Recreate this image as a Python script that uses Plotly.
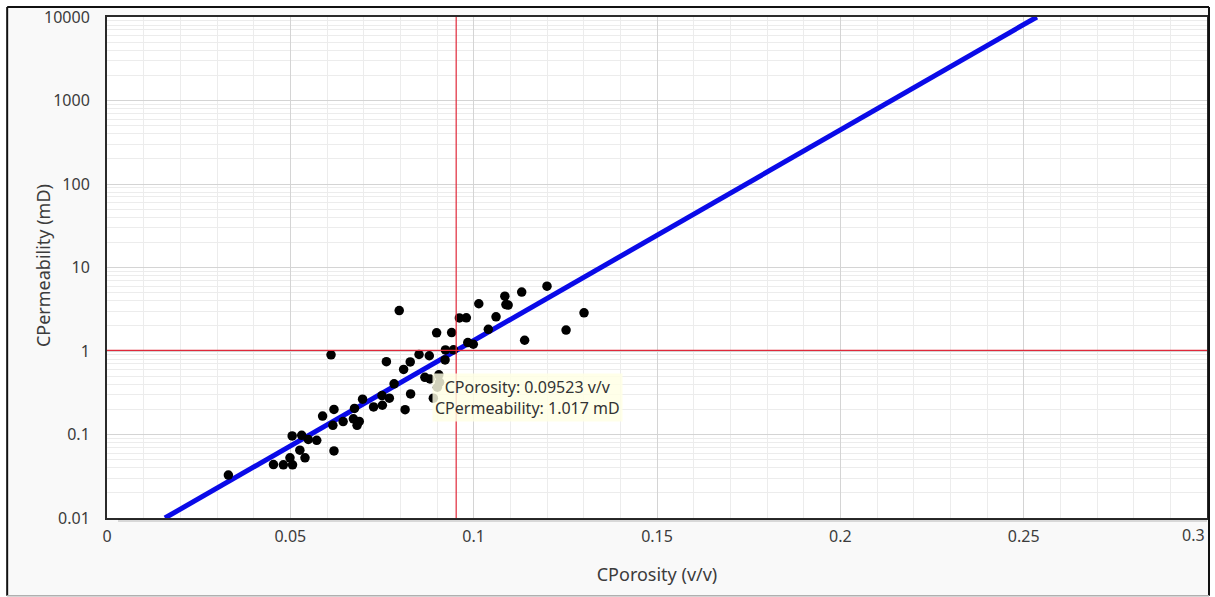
import plotly.graph_objects as go

# Core samples: porosity (v/v) and permeability (mD)
core_porosity = [
    0.0331, 0.0454, 0.0481, 0.0499, 0.0506, 0.0505, 0.0526, 0.0531, 0.0540, 0.0549,
    0.0572, 0.0588, 0.0619, 0.0619, 0.0616, 0.0644, 0.0611, 0.0672, 0.0688, 0.0682,
    0.0675, 0.0697, 0.0727, 0.0751, 0.0750, 0.0770, 0.0762, 0.0783, 0.0797, 0.0809,
    0.0813, 0.0828, 0.0827, 0.0851, 0.0867, 0.0879, 0.0881, 0.0890, 0.0899, 0.0901,
    0.0905, 0.0907, 0.0923, 0.0922, 0.0940, 0.0945, 0.0961, 0.0980, 0.0984, 0.0999,
    0.1014, 0.1040, 0.1061, 0.1085, 0.1094, 0.1088, 0.1131, 0.1139, 0.1200, 0.1252,
    0.1301,
]
core_permeability = [
    0.0327, 0.0437, 0.0433, 0.0525, 0.0433, 0.096, 0.0648, 0.0978, 0.0525, 0.0871,
    0.0853, 0.166, 0.0636, 0.1995, 0.129, 0.143, 0.90, 0.154, 0.1436, 0.129,
    0.205, 0.265, 0.214, 0.224, 0.293, 0.272, 0.744, 0.405, 3.05, 0.602,
    0.198, 0.306, 0.740, 0.908, 0.484, 0.877, 0.462, 0.272, 1.652, 0.368,
    0.518, 0.422, 1.03, 0.781, 1.66, 1.033, 2.49, 2.50, 1.26, 1.205,
    3.68, 1.82, 2.57, 4.54, 3.55, 3.60, 5.08, 1.345, 5.97, 1.78,
    2.87,
]

# Porosity-permeability transform (end points of the fitted line)
fit_porosity = [0.0158, 0.2536]
fit_permeability = [0.01, 10000]

# Cursor read-out
cursor_porosity = 0.09523
cursor_permeability = 1.017

y_tick_vals = [0.01, 0.1, 1, 10, 100, 1000, 10000]
y_tick_text = ["0.01", "0.1", "1", "10", "100", "1000", "10000"]
x_tick_vals = [0, 0.05, 0.1, 0.15, 0.2, 0.25, 0.3]
x_tick_text = ["0", "0.05", "0.1", "0.15", "0.2", "0.25", "0.3"]

W, H = 1215, 597
L, R, T, B = 107, 1209, 15, 518


def px(x):
    return (x - L) / (R - L)


def py(y):
    return (B - y) / (B - T)


FONT = "Noto Sans"
TXT = "#3c3c3c"

fig = go.Figure()

fig.add_trace(go.Scatter(
    x=fit_porosity, y=fit_permeability, mode="lines",
    line=dict(color="#0a0ae8", width=5), hoverinfo="skip", showlegend=False,
))
fig.add_trace(go.Scatter(
    x=core_porosity, y=core_permeability, mode="markers",
    marker=dict(color="black", size=9.5), showlegend=False,
))

minor_log = [m * 10.0 ** e for e in range(-2, 4) for m in range(2, 10)]

frame = dict(color="#111", width=2)
shapes = [
    # cursor cross-hair
    dict(type="line", xref="x", yref="paper", x0=cursor_porosity, x1=cursor_porosity, y0=0, y1=1,
         line=dict(color="#e0283a", width=1.2)),
    dict(type="line", xref="paper", yref="y", x0=0, x1=1, y0=cursor_permeability, y1=cursor_permeability,
         line=dict(color="#e0283a", width=1.2)),
    # soft shadow under the plot frame
    dict(type="line", xref="paper", yref="paper", x0=px(118), x1=1, y0=py(520.5), y1=py(520.5),
         line=dict(color="rgba(0,0,0,0.13)", width=3)),
    # white page outside the panel
    dict(type="rect", xref="paper", yref="paper", x0=px(-2), x1=px(7), y0=py(600), y1=py(-2),
         fillcolor="white", line=dict(width=0)),
    dict(type="rect", xref="paper", yref="paper", x0=px(-2), x1=px(1218), y0=py(5), y1=py(-2),
         fillcolor="white", line=dict(width=0)),
    dict(type="rect", xref="paper", yref="paper", x0=px(1211), x1=px(1218), y0=py(600), y1=py(-2),
         fillcolor="white", line=dict(width=0)),
    # outer panel frame
    dict(type="line", xref="paper", yref="paper", x0=px(7), x1=px(7), y0=py(596), y1=py(5), line=frame),
    dict(type="line", xref="paper", yref="paper", x0=px(7), x1=px(1211), y0=py(5), y1=py(5), line=frame),
    dict(type="line", xref="paper", yref="paper", x0=px(1211), x1=px(1211), y0=py(596), y1=py(5), line=frame),
    dict(type="line", xref="paper", yref="paper", x0=px(7), x1=px(1211), y0=py(596), y1=py(596),
         line=dict(color="#b0b0b0", width=1.5)),
]

tooltip = f"CPorosity: {cursor_porosity:.5f} v/v<br>CPermeability: {cursor_permeability:.3f} mD"

annotations = [
    dict(
        xref="x", yref="paper", x=cursor_porosity, y=py(397),
        xshift=71, text=tooltip, showarrow=False, align="center",
        xanchor="center", yanchor="middle",
        font=dict(family=FONT, size=16, color="#333"),
        bgcolor="rgba(255,255,228,0.82)", borderpad=2,
    ),
    # y-axis title, set close to the tick labels
    dict(
        xref="paper", yref="paper", x=px(43), y=py(265), text="CPermeability (mD)",
        textangle=-90, showarrow=False, xanchor="center", yanchor="middle",
        font=dict(family=FONT, size=18, color=TXT),
    ),
    # last x tick label, kept inside the panel edge
    dict(
        xref="paper", yref="paper", x=px(1209), y=py(535), text=x_tick_text[-1],
        showarrow=False, xanchor="right", yanchor="middle",
        font=dict(family=FONT, size=16, color=TXT),
    ),
]

fig.update_layout(
    width=W, height=H,
    margin=dict(l=L, r=W - R, t=T, b=H - B),
    paper_bgcolor="#f9f9f9",
    plot_bgcolor="white",
    font=dict(family=FONT, size=16, color=TXT),
    shapes=shapes,
    annotations=annotations,
    xaxis=dict(
        range=[0, 0.3], tickmode="array", tickvals=x_tick_vals[:-1], ticktext=x_tick_text[:-1],
        showgrid=True, gridcolor="#d4d4d4", gridwidth=1, zeroline=False,
        minor=dict(dtick=0.01, tick0=0, showgrid=True, gridcolor="#ececec", gridwidth=1),
        showline=True, linecolor="#2a2a2a", linewidth=2, mirror=True,
        ticks="outside", ticklen=3, tickcolor="rgba(0,0,0,0)",
        tickfont=dict(family=FONT, size=16, color=TXT),
        title=dict(text="CPorosity (v/v)", font=dict(family=FONT, size=18, color=TXT), standoff=22),
    ),
    yaxis=dict(
        type="log", range=[-2, 4], tickmode="array", tickvals=y_tick_vals, ticktext=y_tick_text,
        showgrid=True, gridcolor="#d4d4d4", gridwidth=1, zeroline=False,
        minor=dict(tickmode="array", tickvals=minor_log, showgrid=True, gridcolor="#ececec", gridwidth=1),
        showline=True, linecolor="#2a2a2a", linewidth=2, mirror=True,
        ticks="outside", ticklen=12, tickcolor="rgba(0,0,0,0)",
        tickfont=dict(family=FONT, size=16, color=TXT),
    ),
)

fig.write_html("out.html")
